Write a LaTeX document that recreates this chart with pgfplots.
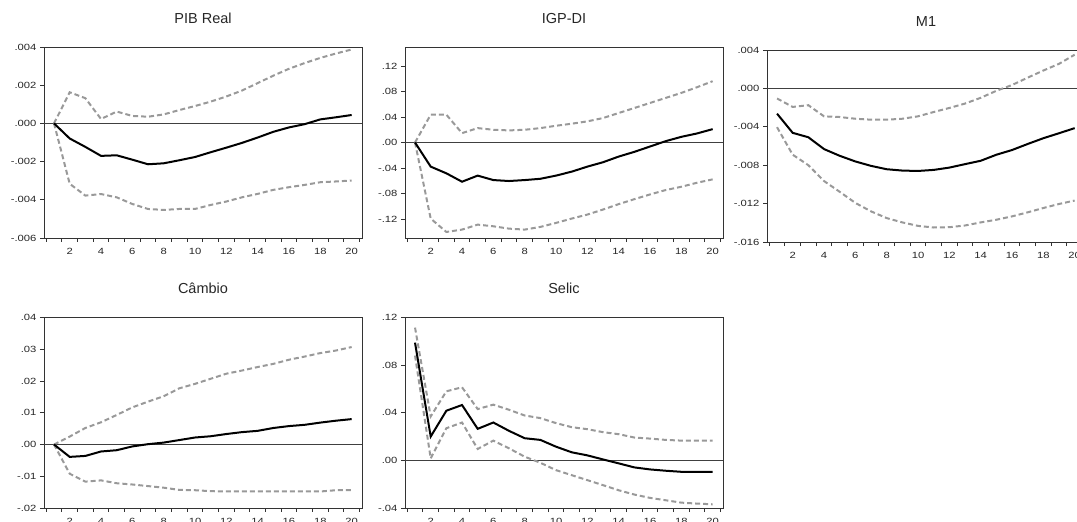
\documentclass[border=0pt]{standalone}
\usepackage{fontspec}
\setmainfont{Liberation Sans}
\newfontfamily\tickfont[FakeStretch=1.25]{Liberation Sans}
\usepackage{pgfplots}
\usepackage{pgfplotstable}
\pgfplotsset{compat=1.18}

\pgfplotstableread{
x m lo hi
1 0 0 0
2 -0.00079 -0.00316 0.00163
3 -0.00123 -0.00378 0.00132
4 -0.0017 -0.0037 0.00023
5 -0.00167 -0.00387 0.00062
6 -0.0019 -0.00422 0.00039
7 -0.00214 -0.00448 0.00035
8 -0.00209 -0.00453 0.00047
9 -0.00193 -0.00448 0.0007
10 -0.00176 -0.00448 0.00091
11 -0.00151 -0.00427 0.00114
12 -0.00127 -0.00409 0.00141
13 -0.00102 -0.00387 0.00172
14 -0.00074 -0.00369 0.00211
15 -0.00044 -0.00348 0.0025
16 -0.00021 -0.00334 0.00286
17 -0.00004 -0.00322 0.00316
18 0.00021 -0.00308 0.00343
19 0.00032 -0.00304 0.00366
20 0.00044 -0.00299 0.00387
}\pib

\pgfplotstableread{
x m lo hi
1 0 0 0
2 -0.0379 -0.1195 0.0437
3 -0.0484 -0.1405 0.0437
4 -0.0616 -0.1368 0.0147
5 -0.052 -0.129 0.0226
6 -0.059 -0.1316 0.02
7 -0.0605 -0.1353 0.019
8 -0.059 -0.1368 0.02
9 -0.057 -0.1326 0.0226
10 -0.052 -0.1263 0.0263
11 -0.0458 -0.1195 0.0295
12 -0.0379 -0.1132 0.0332
13 -0.031 -0.1053 0.0384
14 -0.0221 -0.0968 0.0463
15 -0.0147 -0.089 0.0542
16 -0.0063 -0.0816 0.0621
17 0.0021 -0.0747 0.07
18 0.0089 -0.0695 0.0779
19 0.0142 -0.0632 0.0868
20 0.021 -0.0579 0.0963
}\igp

\pgfplotstableread{
x m lo hi
1 -0.00263 -0.00404 -0.00105
2 -0.00463 -0.00691 -0.00193
3 -0.00509 -0.00800 -0.00175
4 -0.00632 -0.00965 -0.00291
5 -0.00702 -0.01077 -0.00298
6 -0.00761 -0.01193 -0.00316
7 -0.00807 -0.01281 -0.00326
8 -0.00842 -0.01351 -0.00326
9 -0.00856 -0.01396 -0.00316
10 -0.0086 -0.01432 -0.00291
11 -0.00849 -0.01449 -0.00246
12 -0.00825 -0.01446 -0.00204
13 -0.00789 -0.01428 -0.00158
14 -0.00754 -0.01396 -0.00098
15 -0.00691 -0.01368 -0.00025
16 -0.00642 -0.01333 0.00035
17 -0.00579 -0.01291 0.00112
18 -0.00519 -0.01246 0.00186
19 -0.00467 -0.01204 0.00256
20 -0.00414 -0.01168 0.00351
}\mone

\pgfplotstableread{
x m lo hi
1 0 0 0
2 -0.0039 -0.0092 0.0025
3 -0.0036 -0.0117 0.0052
4 -0.0022 -0.0113 0.007
5 -0.0018 -0.0122 0.0093
6 -0.0006 -0.0126 0.0117
7 0.0001 -0.0131 0.0135
8 0.0006 -0.0136 0.0152
9 0.0014 -0.0143 0.0177
10 0.0022 -0.0144 0.0191
11 0.0026 -0.0147 0.0207
12 0.0033 -0.0148 0.0223
13 0.0039 -0.0148 0.0233
14 0.0043 -0.0148 0.0244
15 0.0052 -0.0148 0.0254
16 0.0058 -0.0148 0.0267
17 0.0062 -0.0148 0.0277
18 0.0069 -0.0148 0.0288
19 0.0075 -0.0144 0.0296
20 0.008 -0.0144 0.0307
}\cambio

\pgfplotstableread{
x m lo hi
1 0.0989 0.088 0.1115
2 0.02 0.0017 0.0369
3 0.0417 0.027 0.058
4 0.0465 0.0318 0.0614
5 0.0265 0.0096 0.0431
6 0.0318 0.0166 0.0468
7 0.0248 0.0101 0.0425
8 0.0186 0.0031 0.0377
9 0.0172 -0.002 0.0355
10 0.0115 -0.0082 0.0313
11 0.0068 -0.0124 0.0279
12 0.0042 -0.0166 0.0262
13 0.0008 -0.0208 0.0237
14 -0.0025 -0.0251 0.022
15 -0.0059 -0.0287 0.0192
16 -0.0076 -0.0315 0.0183
17 -0.0087 -0.0335 0.0172
18 -0.0096 -0.0355 0.0166
19 -0.0096 -0.0363 0.0166
20 -0.0096 -0.0369 0.0166
}\selic

\definecolor{bandgray}{HTML}{999999}

\pgfplotsset{
  irf/.style={
    scale only axis, width=318pt,
    xmin=0.36, xmax=20.66,
    xtick={0.5,1.5,...,20.5},
    xticklabels={,2,,4,,6,,8,,10,,12,,14,,16,,18,,20,},
    xticklabel style={xshift=7.83pt, yshift=-2.5pt},
    xtick pos=bottom, ytick pos=left,
    scaled y ticks=false,
    tick align=outside, major tick length=4pt,
    axis line style={black!80, line width=0.9pt},
    tick style={black!80, line width=0.8pt},
    ticklabel style={font=\tickfont\fontsize{9}{10}\selectfont, text=black!85},
    title style={at={(0.5,1)}, anchor=base, yshift=18pt, font=\fontsize{14.5}{16}\selectfont, text=black!85},
  },
  mean/.style={black, line width=2pt},
  band/.style={bandgray, line width=2pt, dash pattern=on 5pt off 3pt},
  zero/.style={black!75, line width=0.9pt},
}

\begin{document}
\begin{tikzpicture}
% PIB Real
\begin{axis}[irf, at={(44pt,-47pt)}, anchor=north west, height=191pt,
  title={PIB Real}, ymin=-0.006, ymax=0.004,
  ytick={-0.006,-0.004,-0.002,0,0.002,0.004},
  yticklabels={-.006,-.004,-.002,.000,.002,.004}]
\addplot[zero] coordinates {(0,0) (21,0)};
\addplot[band] table[x=x,y=hi] {\pib};
\addplot[band] table[x=x,y=lo] {\pib};
\addplot[mean] table[x=x,y=m] {\pib};
\end{axis}
% IGP-DI
\begin{axis}[irf, at={(405pt,-47pt)}, anchor=north west, height=191pt,
  title={IGP-DI}, ymin=-0.15, ymax=0.15,
  ytick={-0.12,-0.08,-0.04,0,0.04,0.08,0.12},
  yticklabels={-.12,-.08,-.04,.00,.04,.08,.12}]
\addplot[zero] coordinates {(0,0) (21,0)};
\addplot[band] table[x=x,y=hi] {\igp};
\addplot[band] table[x=x,y=lo] {\igp};
\addplot[mean] table[x=x,y=m] {\igp};
\end{axis}
% M1
\begin{axis}[irf, at={(767pt,-50pt)}, anchor=north west, height=192pt,
  title={M1}, ymin=-0.016, ymax=0.004,
  ytick={-0.016,-0.012,-0.008,-0.004,0,0.004},
  yticklabels={-.016,-.012,-.008,-.004,.000,.004}]
\addplot[zero] coordinates {(0,0) (21,0)};
\addplot[band] table[x=x,y=hi] {\mone};
\addplot[band] table[x=x,y=lo] {\mone};
\addplot[mean] table[x=x,y=m] {\mone};
\end{axis}
% Cambio
\begin{axis}[irf, at={(44pt,-317.5pt)}, anchor=north west, height=190.5pt,
  title={Câmbio}, ymin=-0.02, ymax=0.04,
  ytick={-0.02,-0.01,0,0.01,0.02,0.03,0.04},
  yticklabels={-.02,-.01,.00,.01,.02,.03,.04}]
\addplot[zero] coordinates {(0,0) (21,0)};
\addplot[band] table[x=x,y=hi] {\cambio};
\addplot[band] table[x=x,y=lo] {\cambio};
\addplot[mean] table[x=x,y=m] {\cambio};
\end{axis}
% Selic
\begin{axis}[irf, at={(405pt,-317.5pt)}, anchor=north west, height=190.5pt,
  title={Selic}, ymin=-0.04, ymax=0.12,
  ytick={-0.04,0,0.04,0.08,0.12},
  yticklabels={-.04,.00,.04,.08,.12}]
\addplot[zero] coordinates {(0,0) (21,0)};
\addplot[band] table[x=x,y=hi] {\selic};
\addplot[band] table[x=x,y=lo] {\selic};
\addplot[mean] table[x=x,y=m] {\selic};
\end{axis}
\pgfresetboundingbox
\useasboundingbox (0pt,0pt) rectangle (1077pt,-522pt);
\end{tikzpicture}
\end{document}
